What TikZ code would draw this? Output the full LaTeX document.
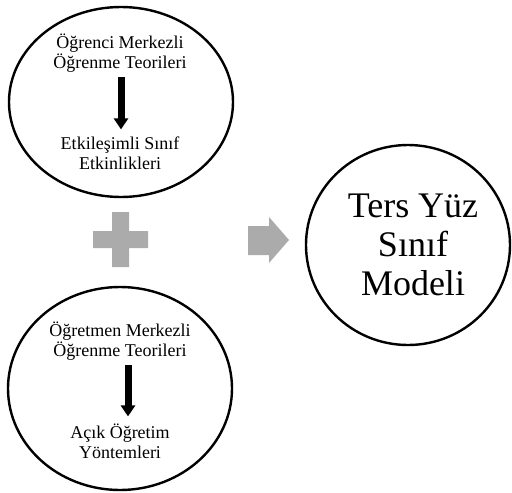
\documentclass[tikz,border=0pt]{standalone}
\usepackage{fontspec}
\setmainfont{Liberation Serif}
\usetikzlibrary{arrows.meta}
\tikzset{
  oval/.style={draw=black, line width=2.4pt},
  smalltxt/.style={align=center, inner sep=0pt, font=\fontsize{18}{20}\selectfont},
  bigtxt/.style={align=center, inner sep=0pt, font=\fontsize{36}{39}\selectfont},
  downarrow/.style={line width=7pt, -{Triangle[width=14pt,length=11pt]}},
  grayshape/.style={fill=black!33, draw=none}
}
\begin{document}
\begin{tikzpicture}[x=1pt,y=-1pt]
\useasboundingbox (0,0) rectangle (512,493);
% ellipses
\draw[oval] (121,102) ellipse [x radius=112, y radius=95];
\draw[oval] (120,388.5) ellipse [x radius=112, y radius=101.5];
\draw[oval] (408,245) ellipse [x radius=102, y radius=100];
% top circle texts
\node[smalltxt] (t1) at (120,53) {Öğrenci Merkezli\\Öğrenme Teorileri};
\node[smalltxt] (t2) at (120,153) {Etkileşimli Sınıf\\Etkinlikleri};
\draw[downarrow, shorten <=5pt, shorten >=7pt] ([xshift=1pt]t1.south) -- ([xshift=1pt]t2.north);
% bottom circle texts
\node[smalltxt] (b1) at (120,341) {Öğretmen Merkezli\\Öğrenme Teorileri};
\node[smalltxt] (b2) at (120,441) {Açık Öğretim\\Yöntemleri};
\draw[downarrow, shorten <=5pt, shorten >=7pt] ([xshift=8pt]b1.south) -- ([xshift=8pt]b2.north);
% right circle text
\node[bigtxt] (r) at (413,245) {Ters Yüz\\Sınıf\\Modeli};
% plus sign
\fill[grayshape] (112,212) -- (129,212) -- (129,231) -- (148,231) -- (148,248) -- (129,248) -- (129,267) -- (112,267) -- (112,248) -- (93,248) -- (93,231) -- (112,231) -- cycle;
% block arrow
\fill[grayshape] (248,226) -- (269,226) -- (269,217) -- (289,240) -- (269,263) -- (269,255) -- (248,255) -- cycle;
\end{tikzpicture}
\end{document}
